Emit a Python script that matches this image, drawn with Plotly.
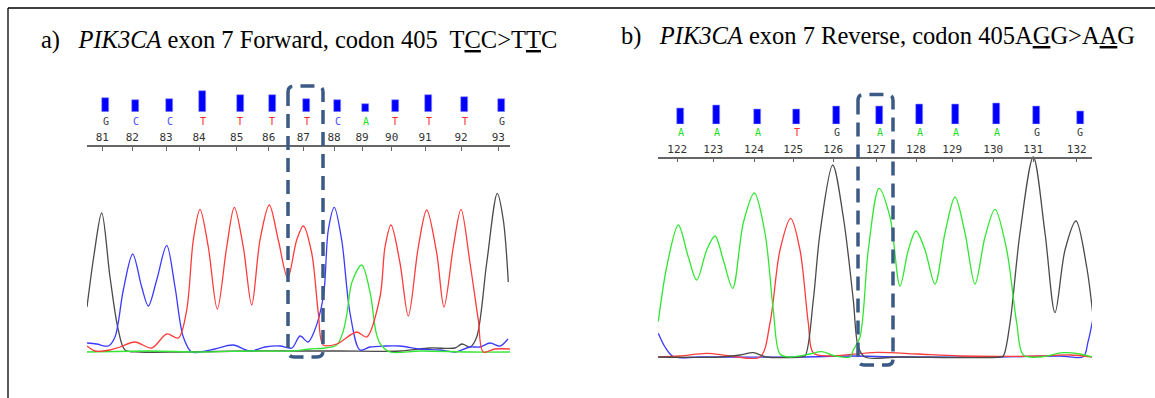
import plotly.graph_objects as go

W, H = 1155, 398

# ---------------- Panel a: PIK3CA exon 7 Forward ----------------
a_pos = [102.3, 132.3, 166, 199, 236.7, 268.7, 303.3, 334, 362, 391.7, 425, 461, 498.3]
a_num = ["81", "82", "83", "84", "85", "86", "87", "88", "89", "90", "91", "92", "93"]
a_base = ["G", "C", "C", "T", "T", "T", "T", "C", "A", "T", "T", "T", "G"]
a_qual = [14, 12, 13, 21, 17, 17, 13, 12, 8, 12, 17, 15, 13]

a_G_x = [87, 94, 101.7, 110, 118.3, 125, 140, 180, 250, 300, 340, 400, 430, 455, 462, 470, 476.7, 486.7, 497.3, 503.3, 508.3]
a_G_y = [45, 97, 139, 75, 22, 2, 0, 0, 1, 1, 1, 1, 4, 4, 8, 5, 15, 89, 158.7, 132, 70]
a_C_x = [87, 96.7, 108.3, 115, 123.3, 132.7, 141.7, 148.3, 156.7, 166.7, 175, 183.3, 191.7, 200, 215, 233, 250, 265, 280, 292, 300, 308, 314, 323.3, 328.3, 334.3, 341.7, 350, 360, 370, 385, 400, 420, 440, 455, 470, 480, 490, 500, 508]
a_C_y = [9, 8, 6, 15, 62, 98, 65, 46, 72, 106.7, 65, 15, 0, 0, 3, 7, 1, 5, 6, 4, 16, 10, 20, 55, 122, 144.7, 112, 39, 2, 5, 6, 6, 3, 2, 0, 5, 5, 9, 6, 13]
a_T_x = [87, 95, 110, 120, 135, 151.7, 166.7, 178.3, 186.7, 193.3, 200, 208.3, 217.3, 226.7, 234.3, 243.3, 251.7, 260, 269.3, 278.3, 287.7, 296.7, 303.3, 311.7, 318.3, 323.3, 336.7, 356.7, 366.7, 380, 385, 391, 400, 408.3, 418.3, 426.7, 436.7, 444, 453.3, 461, 470, 478.3, 483.3, 495, 510]
a_T_y = [6, 1, 2, 5, 10, 4, 18, 14, 42, 112, 142.7, 105, 43, 105, 144.7, 105, 47, 112, 147, 112, 74, 112, 126, 99, 39, 7, 8, 20, 15, 55, 105, 127, 89, 36, 105, 142, 99, 45, 105, 142.7, 89, 32, 0, 3, 3]
a_A_x = [87, 150, 200, 250, 290, 310, 325, 336.7, 343, 347, 352, 361.7, 370, 376, 380, 390, 420, 470, 510]
a_A_y = [0, 1, 0, 1, 1, 3, 4, 7, 20, 38.7, 70, 87, 60, 20, 8.7, 0, 1, 0, 0]

# ---------------- Panel b: PIK3CA exon 7 Reverse ----------------
b_pos = [677.3, 713.3, 754, 793.3, 833.3, 876, 916, 952.3, 993.3, 1033.3, 1076.7]
b_num = ["122", "123", "124", "125", "126", "127", "128", "129", "130", "131", "132"]
b_base = ["A", "A", "A", "T", "G", "A", "A", "A", "A", "G", "G"]
b_qual = [16, 19, 15, 15, 18, 18, 20, 19.6, 20.6, 18, 12.6]

b_A_x = [658.3, 666.7, 678.3, 688.3, 696.7, 706.7, 715, 723.3, 732.7, 743.3, 754.3, 765, 773.3, 780, 790, 810, 821.7, 835, 850, 853.3, 860, 868.3, 879, 890, 900, 908.3, 916, 925, 935, 945, 955, 965, 975, 985, 995, 1006.7, 1016.7, 1023.3, 1040, 1063.3, 1080, 1092]
b_A_y = [35.3, 90, 132, 100, 77, 107, 121, 97, 68.7, 134, 164, 124, 47, 3, 0, 3, 5.3, 1, 0, 7, 20, 107, 168.7, 140, 71, 107, 126, 107, 73, 124, 160, 124, 73, 120, 147.7, 107, 34, 2, 0, 4.3, 3, 0]
b_T_x = [658, 680, 706.7, 730, 760, 770, 780, 790.7, 800, 808.3, 813.3, 830, 876.7, 916.7, 960, 1040, 1070, 1092]
b_T_y = [0, 1, 3.7, 1, 0, 34, 107, 138.7, 107, 34, 4, 1, 4.7, 3, 1, 1, 2, 0]
b_G_x = [658, 720, 740, 753.3, 766, 800, 805, 813.3, 820, 832.7, 843.3, 853.3, 858.3, 865, 900, 1000, 1003.3, 1010, 1020, 1033.3, 1045, 1055, 1065, 1076, 1086.7, 1092.7]
b_G_y = [0, 0, 2, 4.3, 0, 0, 1, 57, 124, 192, 140, 57, 10, 0, 0, 0, 1, 34, 124, 200, 124, 44.3, 107, 136, 90, 43.7]
b_C_x = [658.3, 665, 673.3, 700, 800, 850, 900, 1000, 1060, 1083.3, 1088, 1092.7]
b_C_y = [23.7, 10, 0.3, 0, 0, 1, 0, 0, 1, 0.3, 15, 37]

# ---------------- Styling ----------------
BASE_COL = {"A": "#22dd22", "C": "#4a4aff", "G": "#3a3a3a", "T": "#ff3030"}
TRACE_COL = {"A": "#33e633", "C": "#3b3bff", "G": "#4a4a4a", "T": "#ff3b3b"}
BOX_COL = "#3b5a85"


def py(p):
    return 1 - p / H


fig = go.Figure()

# chromatogram traces
for (xs, ys, b, xa, ya) in [
    (a_G_x, a_G_y, "G", "x", "y"), (a_C_x, a_C_y, "C", "x", "y"),
    (a_A_x, a_A_y, "A", "x", "y"), (a_T_x, a_T_y, "T", "x", "y"),
    (b_C_x, b_C_y, "C", "x2", "y3"), (b_T_x, b_T_y, "T", "x2", "y3"),
    (b_G_x, b_G_y, "G", "x2", "y3"), (b_A_x, b_A_y, "A", "x2", "y3"),
]:
    fig.add_trace(go.Scatter(x=xs, y=ys, mode="lines", xaxis=xa, yaxis=ya,
                             line=dict(color=TRACE_COL[b], width=1.3, shape="spline", smoothing=0.9),
                             showlegend=False, hoverinfo="skip"))

# quality bars
for (pos, q, xa, ya) in [(a_pos, a_qual, "x", "y2"), (b_pos, b_qual, "x2", "y4")]:
    fig.add_trace(go.Bar(x=pos, y=q, xaxis=xa, yaxis=ya, width=7, offset=0,
                         marker=dict(color="#0000ff", line=dict(color="#9a9aff", width=0.6)),
                         showlegend=False, hoverinfo="skip"))

annotations = []
# base call letters
for (pos, bases, xr, ypx) in [(a_pos, a_base, "x", 121.7), (b_pos, b_base, "x2", 132.7)]:
    for p, b in zip(pos, bases):
        annotations.append(dict(x=p, y=py(ypx), xref=xr, yref="paper", text=b, showarrow=False,
                                xanchor="center", yanchor="middle", xshift=3.5,
                                font=dict(family="DejaVu Sans Mono", size=10, color=BASE_COL[b])))

# titles
annotations.append(dict(x=39 / W, y=py(40), xref="paper", yref="paper", xanchor="left", yanchor="middle",
                        showarrow=False,
                        text="a)&nbsp;&nbsp; <i>PIK3CA</i> exon 7 Forward, codon 405&nbsp; T<u>C</u>C&gt;T<u>T</u>C",
                        font=dict(family="Liberation Serif", size=24.5, color="black")))
annotations.append(dict(x=619 / W, y=py(36), xref="paper", yref="paper", xanchor="left", yanchor="middle",
                        showarrow=False,
                        text="b)&nbsp;&nbsp; <i>PIK3CA</i> exon 7 Reverse, codon 405A<u>G</u>G&gt;A<u>A</u>G",
                        font=dict(family="Liberation Serif", size=24.5, color="black")))


def rbox(x0, x1, y0p, y1p, r=6):
    # path in (data x, paper y) coords; y given in pixels
    ya, yb = py(y0p), py(y1p)
    ry = r / H
    return (f"M {x0},{ya - ry} L {x0},{yb + ry} Q {x0},{yb} {x0 + r},{yb} "
            f"L {x1 - r},{yb} Q {x1},{yb} {x1},{yb + ry} L {x1},{ya - ry} "
            f"Q {x1},{ya} {x1 - r},{ya} L {x0 + r},{ya} Q {x0},{ya} {x0},{ya - ry} Z")


shapes = [
    # frame
    dict(type="line", xref="paper", yref="paper", x0=8 / W, x1=1, y0=py(8), y1=py(8),
         line=dict(color="black", width=1.3)),
    dict(type="line", xref="paper", yref="paper", x0=8 / W, x1=8 / W, y0=py(8), y1=0,
         line=dict(color="black", width=1.3)),
    # highlighted codon boxes
    dict(type="path", xref="x", yref="paper", path=rbox(a_pos[6] - 15.3, a_pos[6] + 19.7, 86, 357),
         line=dict(color=BOX_COL, width=3.5, dash="14px,8px")),
    dict(type="path", xref="x2", yref="paper", path=rbox(b_pos[5] - 18, b_pos[5] + 17, 94.5, 365),
         line=dict(color=BOX_COL, width=3.5, dash="14px,8px")),
]

ruler = dict(anchor="free", side="top", showline=True, linecolor="#666", linewidth=1.5,
             ticks="inside", ticklen=4, tickcolor="#666", tickwidth=1.2, showgrid=False, zeroline=False,
             tickfont=dict(family="DejaVu Sans Mono", size=11, color="#333"), fixedrange=True)

fig.update_layout(
    width=W, height=H, autosize=False, margin=dict(l=0, r=0, t=0, b=0),
    paper_bgcolor="white", plot_bgcolor="rgba(0,0,0,0)", bargap=0,
    xaxis=dict(domain=[87 / W, 510 / W], range=[87, 510], position=py(146),
               tickvals=a_pos, ticktext=a_num, **ruler),
    xaxis2=dict(domain=[658 / W, 1092 / W], range=[658, 1092], position=py(157.7),
                tickvals=b_pos, ticktext=b_num, **ruler),
    yaxis=dict(domain=[py(354), py(190)], range=[-2, 162], visible=False, anchor="x", fixedrange=True),
    yaxis2=dict(domain=[py(112), py(82)], range=[0, 30], visible=False, anchor="x", fixedrange=True),
    yaxis3=dict(domain=[py(359), py(155)], range=[-2, 202], visible=False, anchor="x2", fixedrange=True),
    yaxis4=dict(domain=[py(124.3), py(94.3)], range=[0, 30], visible=False, anchor="x2", fixedrange=True),
    annotations=annotations, shapes=shapes,
)

fig.write_html("out.html")
